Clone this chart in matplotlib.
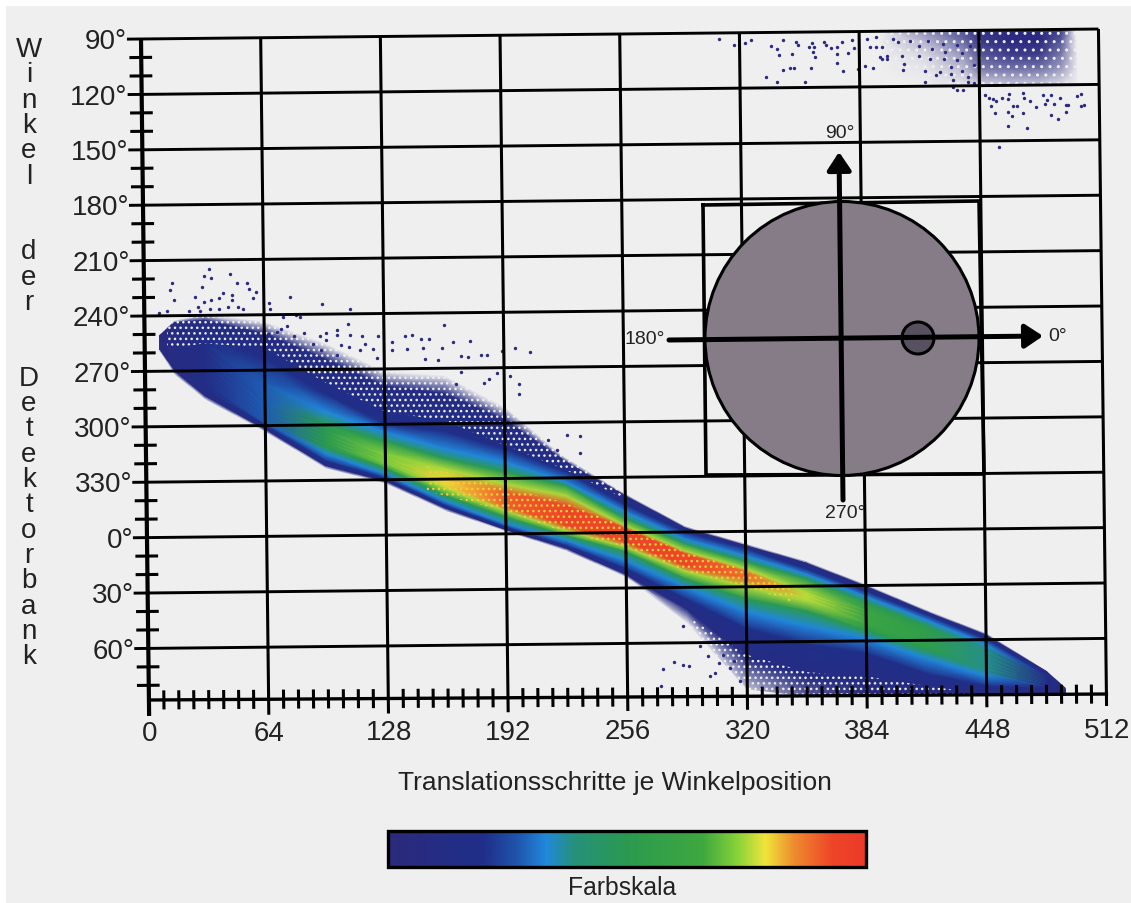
"""Sinogram of a detector bank with colour scale and small gantry inset."""

import matplotlib
matplotlib.use("Agg")
import matplotlib.pyplot as plt
import numpy as np
from matplotlib.colors import LinearSegmentedColormap, ListedColormap, to_rgba
from matplotlib.patches import Circle, Rectangle
from matplotlib.transforms import Affine2D

plt.rcParams["font.family"] = ["Liberation Sans", "DejaVu Sans"]

# detector row is counted from the 90 deg line, 30 deg = 55.4 rows
ROWS_PER_30 = 55.4
ANGLE_LABELS = ["90°", "120°", "150°", "180°", "210°", "240°", "270°", "300°", "330°", "0°", "30°", "60°"]
STEP_LABELS = [0, 64, 128, 192, 256, 320, 384, 448, 512]
VERTICAL_TEXT = "Winkel  der  Detektorbank"

SCALE_POS = [0.0, 0.20, 0.27, 0.33, 0.39, 0.50, 0.66, 0.73, 0.79, 0.85, 0.93, 1.0]
SCALE_COLORS = ["#2c2a7c", "#1f2f8a", "#1f55ac", "#2188dc", "#26917a", "#2b9a50", "#3fa83f",
                "#86d23a", "#f0e53a", "#ee8c2f", "#ee4528", "#ec3a2a"]

BAND_STEPS = [8, 16, 32, 64, 96, 128, 160, 192, 224, 256, 288, 320, 352, 384, 416, 448, 480, 490]
BAND_PEAK = [0.05, 0.10, 0.14, 0.28, 0.50, 0.72, 0.80, 0.90, 0.93, 0.93, 0.93, 0.88, 0.76, 0.62, 0.55, 0.38, 0.14, 0.05]
BAND_LEVELS = [0.0, 0.10, 0.18, 0.33, 0.50, 0.75, 0.95, 0.95, 0.75, 0.50, 0.33, 0.18, 0.10, 0.0]
BAND_BOTTOM_LEVEL = [0, 0, 0, 0, 0, 0, 0, 0, 0, 0, 0, 0.01, 0.03, 0.05, 0.08, 0.14, 0.14, 0.05]
# one list per colour boundary across the band, top to bottom, in detector rows
BAND_TOP = [296, 282, 276, 284, 306, 335, 340, 372, 423, 460, 493, 511, 529, 553, 579, 603, 641, 658]
BAND_DENSE_A = [297, 284, 282, 296, 322, 350, 358, 385, 427, 462, 495, 513, 531, 555, 581, 605, 642, 659]
BAND_DARK_A = [298, 290, 295, 321, 357, 387, 396, 414, 437, 471, 499, 516, 537, 560, 584, 609, 645, 660.5]
BAND_BLUE_A = [302, 295, 305, 346, 374, 396, 413, 427, 447, 478, 506, 523, 542, 565, 589, 614, 647, 661]
BAND_GREEN_A = [303, 300, 312, 366, 387, 405, 423, 437, 451, 485, 511, 529, 547, 571, 595, 619, 649, 661.5]
BAND_YELLOW_A = [304, 305, 318, 373, 394, 417, 433, 449, 461, 492, 518, 536, 560, 579, 602, 624, 651, 662]
BAND_RED_A = [305, 310, 325, 376, 398, 422, 443, 457, 471, 495, 521, 539, 563, 583, 606, 629, 652, 662.5]
BAND_RED_B = [306, 315, 332, 379, 402, 424, 449, 471, 491, 508, 533, 546, 565, 587, 610, 634, 653, 663]
BAND_YELLOW_B = [307, 318, 336, 381, 406, 427, 453, 476, 496, 513, 538, 554, 569, 592, 614, 637, 654, 663.5]
BAND_GREEN_B = [308, 321, 340, 383, 410, 432, 460, 482, 501, 518, 546, 566, 579, 599, 619, 641, 655, 664]
BAND_BLUE_B = [309, 324, 344, 385, 417, 438, 466, 489, 506, 527, 554, 579, 594, 607, 628, 646, 657, 664.5]
BAND_DARK_B = [310, 328, 352, 388, 424, 442, 470, 492, 511, 535, 566, 596, 612, 622, 643, 656, 659, 665]
BAND_DENSE_B = [311, 333, 358, 392, 429, 445, 473, 495, 514, 541, 576, 625, 645, 650, 660, 662, 661, 665.5]
BAND_BOTTOM = [312, 336, 361, 394, 431, 447, 475, 496, 516, 543, 589, 656, 664, 664, 664, 664, 663, 666]

# thin cloud in the top right corner, rows wrap round from the bottom of the plot
CLOUD_STEPS = [395, 420, 440, 448, 465, 480, 492, 500]
CLOUD_ROWS = [0, 12, 25, 40, 55]
CLOUD_DENSITY = [
    [0.00, 0.50, 0.80, 0.95, 1.00, 1.00, 0.90, 0.00],
    [0.00, 0.30, 0.65, 0.90, 1.00, 1.00, 0.75, 0.00],
    [0.00, 0.12, 0.45, 0.75, 0.90, 0.90, 0.60, 0.05],
    [0.00, 0.05, 0.25, 0.55, 0.60, 0.60, 0.40, 0.05],
    [0.00, 0.00, 0.05, 0.15, 0.20, 0.20, 0.08, 0.00],
]

# stippled stretches where the counts thin out (or, in the core, where red and yellow mix)
SPARSE_TOP_STEPS = [12, 32, 64, 96, 128, 160, 192, 224, 256]
SPARSE_TOP_FROM = [285, 270, 278, 300, 330, 335, 365, 415, 455]
SPARSE_TOP_TO = [310, 305, 310, 345, 375, 385, 410, 435, 465]
SPARSE_LOW_STEPS = [290, 320, 352, 384, 416, 440]
SPARSE_LOW_FROM = [585, 622, 640, 645, 655, 662]
SPARSE_LOW_TO = [625, 660, 664, 664, 664, 664]
SPARSE_CLOUD_STEPS = [395, 440, 505]
SPARSE_CLOUD_FROM = [0, 0, 0]
SPARSE_CLOUD_TO = [30, 58, 58]
CORE_STEPS = [150, 192, 224, 256, 288, 320, 345]
CORE_FROM = [430, 452, 468, 493, 519, 537, 558]
CORE_TO = [455, 476, 498, 513, 538, 554, 570]

STRAY_STEPS = [
    309, 317, 323, 326, 337, 340, 341, 348, 343, 350, 351, 359, 360, 357, 359, 360, 365, 366, 369, 372,
    375, 380, 381, 378, 372, 372, 375, 358, 349, 347, 343, 334, 340, 355, 383, 387, 391, 390, 393, 396,
    395, 399, 399, 396, 407, 408, 407, 419, 419, 425, 427, 433, 433, 434, 439, 442, 442, 434, 436, 439,
    445, 451, 453, 455, 460, 457, 464, 463, 471, 472, 475, 482, 486, 484, 483, 488, 491, 494, 495, 500,
    502, 502, 504, 454, 456, 463, 465, 466, 468, 471, 478, 486, 494, 490, 463, 473, 458,
    388, 393, 402, 405, 411, 416, 421, 423, 429, 430, 436, 439, 443, 416, 422, 429, 436, 445,
    35, 46, 32, 36, 15, 50, 55, 14, 31, 56, 16, 42, 47, 60, 58, 47, 27, 40, 36, 32,
    29, 30, 35, 40, 45, 50, 53, 8, 12, 24, 67, 67, 78, 95, 110, 109, 103, 97, 94, 103,
    110, 116, 125, 132, 139, 143, 148, 152, 149, 159, 165, 174, 160, 191, 198, 169, 173, 180, 183, 206,
    150, 157, 105, 109, 118, 122, 97, 85, 80, 76, 73, 66, 71, 69, 81, 83, 74, 90, 94, 103,
    115, 124, 132, 140, 188, 200, 200, 184, 195, 181, 169, 166,
    275, 281, 286, 289, 274, 300, 303, 305, 311, 316, 299, 295, 286, 307, 313, 225, 232, 232, 215, 220,
]
STRAY_ROWS = [
    6, 12, 10, 7, 14, 17, 23, 22, 8, 10, 13, 11, 15, 15, 20, 25, 10, 13, 16, 15,
    10, 8, 16, 21, 22, 31, 39, 36, 36, 36, 38, 45, 50, 50, 37, 35, 37, 16, 16, 16,
    26, 25, 28, 28, 25, 33, 39, 40, 51, 44, 41, 36, 43, 49, 41, 47, 52, 56, 60, 60,
    53, 65, 68, 69, 68, 71, 64, 69, 63, 68, 71, 65, 65, 70, 74, 75, 69, 76, 76, 67,
    65, 77, 76, 76, 83, 82, 86, 76, 76, 83, 77, 85, 83, 90, 96, 98, 117,
    8, 6, 8, 11, 10, 15, 10, 18, 13, 21, 15, 23, 16, 25, 28, 28, 30, 35,
    231, 236, 238, 240, 244, 245, 245, 251, 249, 251, 261, 255, 257, 254, 260, 262, 259, 260, 262, 264,
    269, 273, 271, 271, 269, 269, 271, 274, 272, 272, 265, 271, 260, 267, 272, 287, 293, 296, 299, 298,
    298, 299, 299, 306, 300, 299, 303, 303, 312, 312, 306, 305, 289, 316, 313, 320, 321, 320, 320, 317,
    323, 324, 308, 310, 307, 312, 303, 296, 299, 288, 291, 296, 294, 306, 278, 280, 279, 307, 313, 318,
    313, 321, 314, 313, 338, 349, 359, 344, 341, 348, 336, 348,
    635, 628, 632, 633, 652, 643, 640, 630, 635, 648, 623, 613, 593, 622, 628, 400, 402, 419, 405, 415,
]

DOT_COLOR = "#2b2a80"
PAPER = "#efefef"
INK = "#222222"

fig = plt.figure(figsize=(11.31, 9.04), dpi=100, facecolor="white")
ax = fig.add_axes([0, 0, 1, 1])
ax.axis("off")

# the scan sits slightly crooked on the page: (step, row) -> page pixels
scan = Affine2D.from_values(1.87, -0.0195, 0.012, 1.0, 141, 40) + ax.transData

ax.add_patch(Rectangle((6, 7), 1125, 897, fc=PAPER, ec="none", zorder=0))

scale_cmap = LinearSegmentedColormap.from_list("farbskala", list(zip(SCALE_POS, SCALE_COLORS)), N=512)
# lowest counts fade into the paper instead of using transparency (that leaves seams)
lut = scale_cmap(np.linspace(0, 1, 512))
fade = np.clip(np.linspace(0, 1, 512) / 0.04, 0, 1)[:, None]
lut[:, :3] = lut[:, :3] * fade + np.array(to_rgba(PAPER))[:3] * (1 - fade)
band_cmap = ListedColormap(lut)

stations = [BAND_TOP, BAND_DENSE_A, BAND_DARK_A, BAND_BLUE_A, BAND_GREEN_A, BAND_YELLOW_A, BAND_RED_A,
            BAND_RED_B, BAND_YELLOW_B, BAND_GREEN_B, BAND_BLUE_B, BAND_DARK_B, BAND_DENSE_B, BAND_BOTTOM]
Y = np.array(stations, dtype=float)
X = np.tile(np.array(BAND_STEPS, dtype=float), (Y.shape[0], 1))
Z = np.minimum.outer(np.array(BAND_LEVELS), np.array(BAND_PEAK))
Z[-1, :] = BAND_BOTTOM_LEVEL
ax.pcolormesh(X, Y, Z, shading="gouraud", cmap=band_cmap, vmin=0, vmax=1, transform=scan, zorder=2)

cloud_cmap = LinearSegmentedColormap.from_list("cloud", [PAPER, DOT_COLOR])
ax.pcolormesh(CLOUD_STEPS, CLOUD_ROWS, CLOUD_DENSITY, shading="gouraud", cmap=cloud_cmap, vmin=0, vmax=1,
              transform=scan, zorder=2)

for xs, lo, hi, colour, pattern in [
    (SPARSE_TOP_STEPS, SPARSE_TOP_FROM, SPARSE_TOP_TO, PAPER, "..."),
    (SPARSE_LOW_STEPS, SPARSE_LOW_FROM, SPARSE_LOW_TO, PAPER, "..."),
    (SPARSE_CLOUD_STEPS, SPARSE_CLOUD_FROM, SPARSE_CLOUD_TO, PAPER, ".."),
    (CORE_STEPS, CORE_FROM, CORE_TO, "#f2cf3a", "..."),
]:
    ax.fill_between(xs, lo, hi, facecolor="none", edgecolor=colour, hatch=pattern, lw=0, transform=scan, zorder=2.5)

ax.scatter(STRAY_STEPS, STRAY_ROWS, s=6, color=DOT_COLOR, lw=0, transform=scan, zorder=3)

# grid, axis and ticks
n_angles = len(ANGLE_LABELS)
grid_rows = [i * ROWS_PER_30 for i in range(n_angles)]
base_row = [661, 665]
for row in grid_rows:
    ax.plot([-7.5, 512], [row, row], color="black", lw=2.1, transform=scan, zorder=4, solid_capstyle="butt")
for step in STEP_LABELS:
    ax.plot([step, step], [0, 677], color="black", lw=2.2 if step else 3.0, transform=scan, zorder=4,
            solid_capstyle="butt")
ax.plot([0, 512], base_row, color="black", lw=2.4, transform=scan, zorder=4)
for i in range(1, 3 * n_angles + 1):
    if i % 3:
        row = i * ROWS_PER_30 / 3
        if row < 661:
            ax.plot([-5.5, 5], [row, row], color="black", lw=2.2, transform=scan, zorder=4)
for step in range(8, 512, 8):
    if step % 64:
        mid = base_row[0] + (base_row[1] - base_row[0]) * step / 512
        ax.plot([step, step], [mid - 8, mid + 8], color="black", lw=2.2, transform=scan, zorder=4)

for row, label in zip(grid_rows, ANGLE_LABELS):
    ax.text(-7.5, row + 2, label, ha="right", va="center", fontsize=20, color=INK, transform=scan, zorder=5)
for step in STEP_LABELS:
    ax.text(step, 694 + 0.0135 * step, str(step), ha="center", va="center", fontsize=20, color=INK,
            transform=scan, zorder=5)

for i, letter in enumerate(VERTICAL_TEXT):
    ax.text(29, 50 + i * 25.3, letter, ha="center", va="center", fontsize=20, color=INK, zorder=5)

ax.text(615, 783, "Translationsschritte je Winkelposition", ha="center", va="center", fontsize=19, color=INK)
ax.text(622, 888, "Farbskala", ha="center", va="center", fontsize=17.8, color=INK)

# colour scale
ax.imshow(np.linspace(0, 1, 512)[None, :], cmap=scale_cmap, extent=(388, 866, 868, 832), aspect="auto", zorder=2)
ax.add_patch(Rectangle((388, 832), 478, 36, fc="none", ec="black", lw=2.4, zorder=3))

# gantry inset
ax.plot([703, 979, 984, 706, 703], [206, 202, 475, 476, 206], color="black", lw=2.6, zorder=5)
ax.add_patch(Circle((842, 339.5), 137, fc="#857c88", ec="black", lw=2.2, zorder=6))
ax.add_patch(Circle((918, 339), 16, fc="#57505f", ec="black", lw=2.2, zorder=7))
arrow = dict(arrowstyle="-|>,head_length=0.45,head_width=0.3", color="black", lw=3.6, shrinkA=0, shrinkB=0,
             mutation_scale=24)
ax.annotate("", xy=(1043, 337), xytext=(669, 341), arrowprops=arrow, zorder=8)
ax.annotate("", xy=(839, 153), xytext=(843, 501), arrowprops=arrow, zorder=8)
for x, y, label in [(645, 340, "180°"), (1058, 337, "0°"), (840, 134, "90°"), (845, 514, "270°")]:
    ax.text(x, y, label, ha="center", va="center", fontsize=14, color=INK, zorder=9)

ax.set_xlim(0, 1131)
ax.set_ylim(904, 0)
fig.savefig("out.png", dpi=100, facecolor="white")
